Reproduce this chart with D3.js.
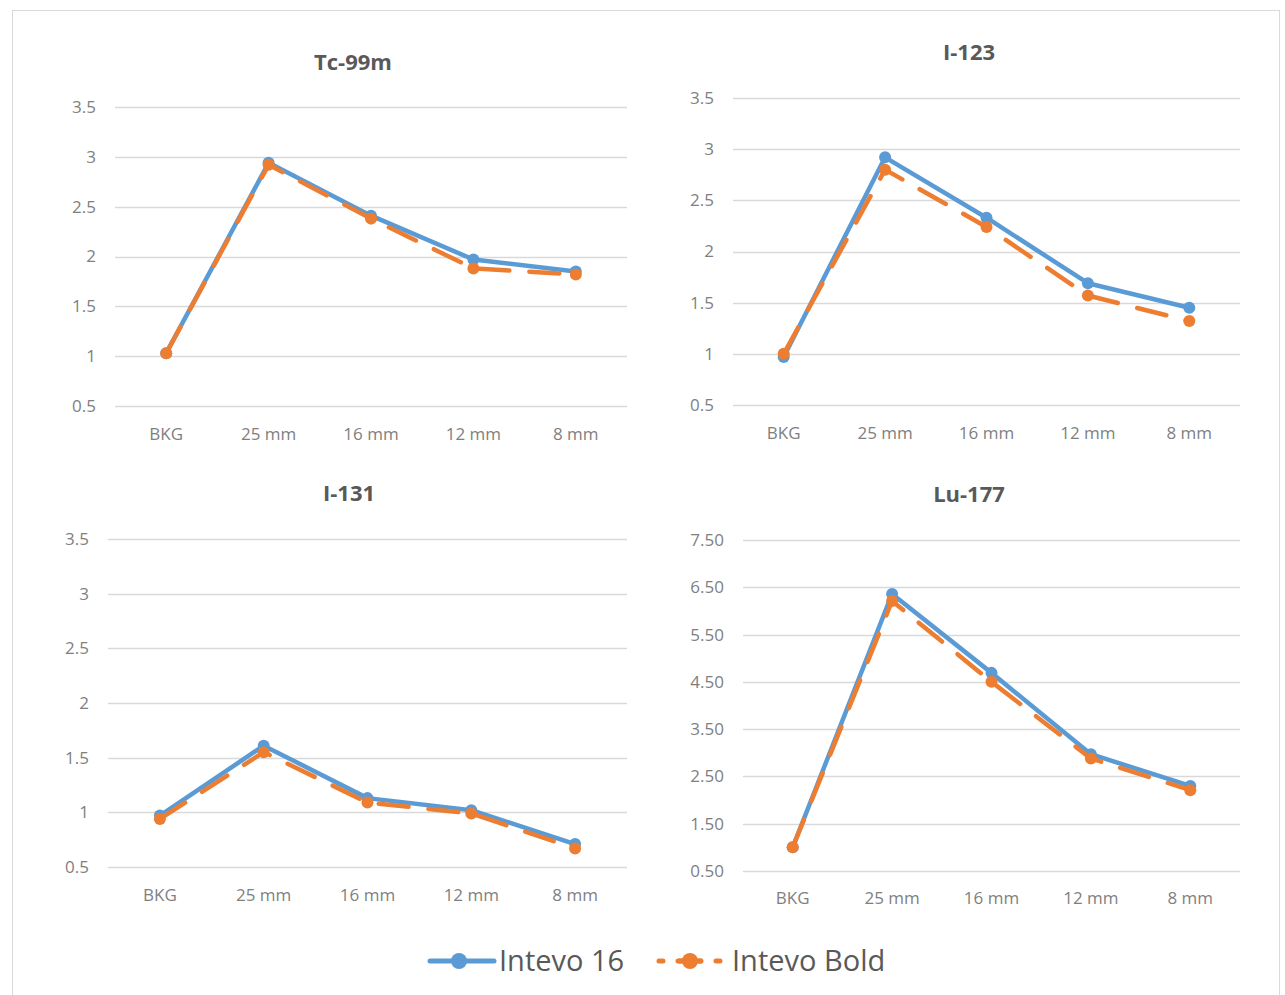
<!DOCTYPE html>
<html><head><meta charset="utf-8">
<script src="https://cdn.jsdelivr.net/npm/d3@7"></script>
<style>
html,body{margin:0;padding:0;background:#fff;}
svg{display:block;}
text{font-family:"Open Sans","Noto Sans",sans-serif;}
</style></head>
<body>
<svg id="chart" width="1285" height="995"></svg>
<script>
const categories = ["BKG", "25 mm", "16 mm", "12 mm", "8 mm"];
const seriesNames = ["Intevo 16", "Intevo Bold"];
const panelTitles = ["Tc-99m", "I-123", "I-131", "Lu-177"];

const tc99mIntevo16   = [1.03, 2.94, 2.41, 1.97, 1.85];
const tc99mIntevoBold = [1.03, 2.92, 2.38, 1.88, 1.82];
const i123Intevo16    = [0.97, 2.92, 2.33, 1.69, 1.45];
const i123IntevoBold  = [1.00, 2.80, 2.24, 1.57, 1.32];
const i131Intevo16    = [0.97, 1.61, 1.13, 1.02, 0.71];
const i131IntevoBold  = [0.94, 1.55, 1.09, 0.99, 0.67];
const lu177Intevo16   = [1.00, 6.36, 4.69, 2.97, 2.30];
const lu177IntevoBold = [1.00, 6.21, 4.50, 2.88, 2.21];

const ticksSmall = [0.5, 1, 1.5, 2, 2.5, 3, 3.5];
const ticksLu = [0.5, 1.5, 2.5, 3.5, 4.5, 5.5, 6.5, 7.5];

const colors = ["#5B9BD5", "#ED7D31"];

const svg = d3.select("#chart");

// outer border
svg.append("rect").attr("x", 12.5).attr("y", 10.5).attr("width", 1267).attr("height", 1000)
  .attr("fill", "none").attr("stroke", "#d9d9d9").attr("stroke-width", 1);

const panels = [
  {title: panelTitles[0], data: [tc99mIntevo16, tc99mIntevoBold], ticks: ticksSmall, fmt: d3.format(""),
   x0: 115, x1: 627, yTop: 107, yBot: 406, titleX: 353, titleY: 70, labX: 96, catY: 440},
  {title: panelTitles[1], data: [i123Intevo16, i123IntevoBold], ticks: ticksSmall, fmt: d3.format(""),
   x0: 733, x1: 1240, yTop: 98, yBot: 405, titleX: 969, titleY: 60, labX: 714, catY: 439},
  {title: panelTitles[2], data: [i131Intevo16, i131IntevoBold], ticks: ticksSmall, fmt: d3.format(""),
   x0: 108, x1: 627, yTop: 539, yBot: 867, titleX: 349, titleY: 501, labX: 89, catY: 901},
  {title: panelTitles[3], data: [lu177Intevo16, lu177IntevoBold], ticks: ticksLu, fmt: d3.format(".2f"),
   x0: 743, x1: 1240, yTop: 540, yBot: 871, titleX: 969, titleY: 502, labX: 724, catY: 904}
];

panels.forEach(p => {
  const g = svg.append("g");
  const x = d3.scaleBand().domain(categories).range([p.x0, p.x1]);
  const y = d3.scaleLinear().domain([d3.min(p.ticks), d3.max(p.ticks)]).range([p.yBot, p.yTop]);

  // gridlines
  g.selectAll("line.grid").data(p.ticks).enter().append("line")
    .attr("x1", p.x0).attr("x2", p.x1)
    .attr("y1", d => Math.round(y(d)) + 0.5).attr("y2", d => Math.round(y(d)) + 0.5)
    .attr("stroke", "#d9d9d9").attr("stroke-width", 1.3);

  // y labels
  g.selectAll("text.ylab").data(p.ticks).enter().append("text")
    .attr("x", p.labX).attr("y", d => y(d)).attr("dy", "0.35em")
    .attr("text-anchor", "end").attr("font-size", 17).attr("fill", "#7f7f7f")
    .text(d => p.fmt(d));

  // x labels
  g.selectAll("text.xlab").data(categories).enter().append("text")
    .attr("x", d => x(d) + x.bandwidth() / 2).attr("y", p.catY)
    .attr("text-anchor", "middle").attr("font-size", 17).attr("fill", "#7f7f7f")
    .text(d => d);

  // title
  g.append("text").attr("x", p.titleX).attr("y", p.titleY).attr("text-anchor", "middle")
    .attr("font-size", 22).attr("font-weight", "bold").attr("fill", "#595959").text(p.title);

  const line = d3.line().x((d, i) => x(categories[i]) + x.bandwidth() / 2).y(d => y(d));

  p.data.forEach((vals, si) => {
    g.append("path").datum(vals).attr("d", line).attr("fill", "none")
      .attr("stroke", colors[si]).attr("stroke-width", 4.5)
      .attr("stroke-linejoin", "round").attr("stroke-linecap", "round")
      .attr("stroke-dasharray", si === 1 ? "30,20" : null);
    g.selectAll(null).data(vals).enter().append("circle")
      .attr("cx", (d, i) => x(categories[i]) + x.bandwidth() / 2).attr("cy", d => y(d))
      .attr("r", 6).attr("fill", colors[si]);
  });
});

// legend
const legend = svg.append("g");
const legendItems = [
  {name: seriesNames[0], color: colors[0], lx0: 430, lx1: 494, cx: 459, tx: 499, dash: null},
  {name: seriesNames[1], color: colors[1], lx0: 659, lx1: 720, cx: 690, tx: 732, dash: "4,15"}
];
legendItems.forEach(it => {
  legend.append("line").attr("x1", it.lx0).attr("x2", it.lx1).attr("y1", 961).attr("y2", 961)
    .attr("stroke", it.color).attr("stroke-width", 5).attr("stroke-linecap", "round")
    .attr("stroke-dasharray", it.dash);
  if (it.dash) {
    legend.append("line").attr("x1", 678).attr("x2", 702).attr("y1", 961).attr("y2", 961)
      .attr("stroke", it.color).attr("stroke-width", 5);
  }
  legend.append("circle").attr("cx", it.cx).attr("cy", 961).attr("r", 8).attr("fill", it.color);
  legend.append("text").attr("x", it.tx).attr("y", 961).attr("dy", "0.35em")
    .attr("font-size", 29).attr("fill", "#595959").text(it.name);
});
</script>
</body></html>
